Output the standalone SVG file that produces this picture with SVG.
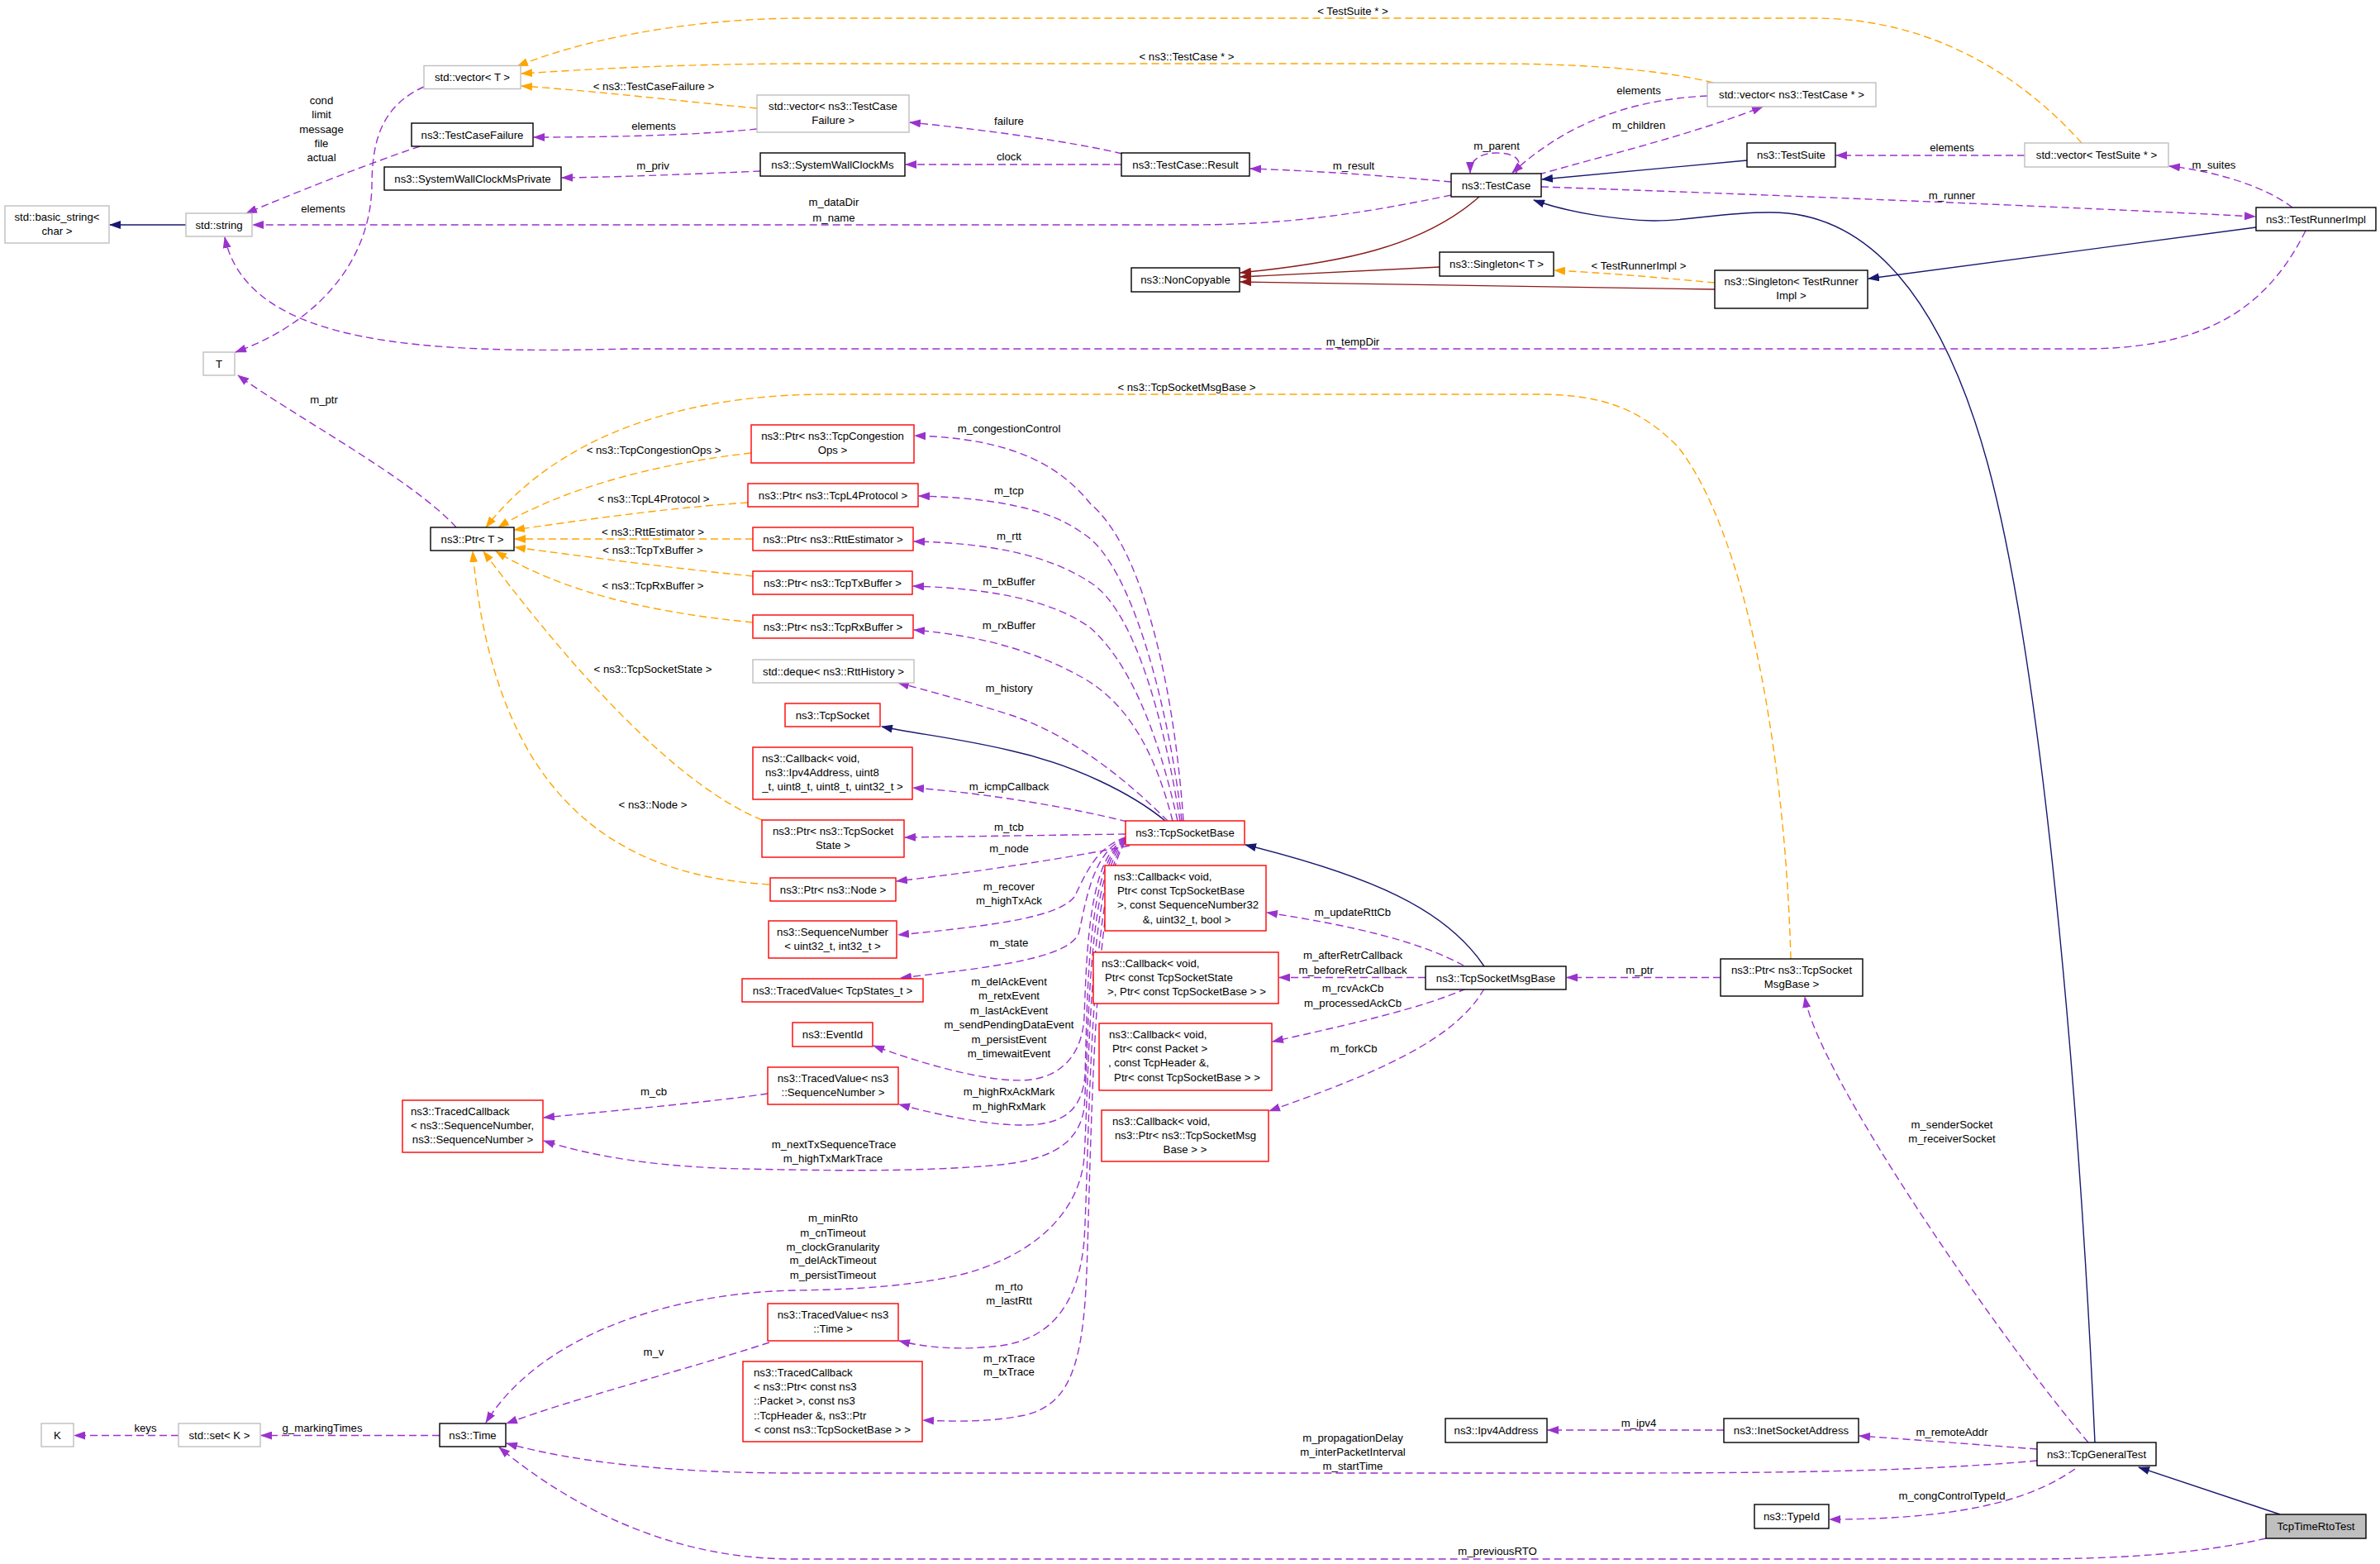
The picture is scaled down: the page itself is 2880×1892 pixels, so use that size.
<svg xmlns="http://www.w3.org/2000/svg" width="2880" height="1892" viewBox="0 0 2880 1892">
<style>
text{font-family:"Liberation Sans",Arial,Helvetica,sans-serif;font-size:13.2px;fill:#000}
.m{text-anchor:middle}
.n rect{fill:#fff;stroke-width:1.4}
.b rect{stroke:#000}
.g rect{stroke:#bfbfbf}
.r rect{stroke:#ff0000}
.e path{fill:none;stroke-width:1.4}
.p{stroke:#9a32cd;stroke-dasharray:9,5;marker-end:url(#ap)}
.o{stroke:#ffa500;stroke-dasharray:9,5;marker-end:url(#ao)}
.u{stroke:#191970;marker-end:url(#au)}
.f{stroke:#8b1a1a;marker-end:url(#af)}
</style>
<defs>
<marker id="ap" markerWidth="14" markerHeight="10" refX="13" refY="5" orient="auto" markerUnits="userSpaceOnUse"><path d="M0,0 L14,5 L0,10 z" fill="#9a32cd"/></marker>
<marker id="ao" markerWidth="14" markerHeight="10" refX="13" refY="5" orient="auto" markerUnits="userSpaceOnUse"><path d="M0,0 L14,5 L0,10 z" fill="#ffa500"/></marker>
<marker id="au" markerWidth="14" markerHeight="10" refX="13" refY="5" orient="auto" markerUnits="userSpaceOnUse"><path d="M0,0 L14,5 L0,10 z" fill="#191970"/></marker>
<marker id="af" markerWidth="14" markerHeight="10" refX="13" refY="5" orient="auto" markerUnits="userSpaceOnUse"><path d="M0,0 L14,5 L0,10 z" fill="#8b1a1a"/></marker>
</defs>
<rect width="2880" height="1892" fill="#fff"/>
<g id="connectors" class="e">
<path class="u" d="M225,272 L133,272"/>
<path class="p" d="M513,105 C462,128 450,170 450,225 C448,320 380,392 285,426"/>
<path class="p" d="M508,177 C440,200 350,236 298,258"/>
<path class="p" d="M916,156 C850,163 750,166 646,166"/>
<path class="o" d="M916,131 C820,122 720,110 631,104"/>
<path class="o" d="M2073,100 C2000,82 1900,77 1800,77 L960,77 C800,78 710,84 631,89"/>
<path class="o" d="M2519,173 C2440,85 2330,22 2196,22 L960,22 C820,24 700,50 626,80"/>
<path class="p" d="M920,207 C850,210 760,214 680,215"/>
<path class="p" d="M1358,186 C1300,172 1200,158 1101,148"/>
<path class="p" d="M1357,199 L1096,199"/>
<path class="p" d="M1756,220 C1680,213 1600,207 1513,204"/>
<path class="p" d="M1834,210 C1846,192 1830,185 1811,185 C1792,185 1779,193 1779,209"/>
<path class="p" d="M2066,116 C1980,120 1900,145 1830,209"/>
<path class="p" d="M1862,211 C1950,186 2050,162 2133,129"/>
<path class="p" d="M1756,236 C1650,258 1560,272 1440,272 L306,272"/>
<path class="u" d="M2114,194 L1866,217"/>
<path class="p" d="M1865,226 C2100,234 2500,250 2729,262"/>
<path class="u" d="M2535,1745 C2515,1300 2470,800 2405,560 C2350,360 2260,255 2140,257 C2080,257 2040,268 2000,267 C1960,266 1900,258 1856,242"/>
<path class="p" d="M2450,188 L2222,188"/>
<path class="p" d="M2774,251 C2740,225 2680,207 2625,201"/>
<path class="u" d="M2730,275 L2261,337"/>
<path class="o" d="M2075,342 C2000,335 1940,330 1881,327"/>
<path class="f" d="M1790,238 C1720,300 1620,318 1501,330"/>
<path class="f" d="M1742,323 L1501,335"/>
<path class="f" d="M2075,350 C1900,349 1700,344 1501,341"/>
<path class="p" d="M2790,279 C2740,380 2660,422 2520,422 L760,422 C520,428 300,420 272,287"/>
<path class="p" d="M552,638 C500,580 350,500 288,454"/>
<path class="o" d="M2167,1160 C2160,900 2110,640 2030,540 C1985,495 1940,477 1860,477 L1000,477 C840,477 680,520 588,638"/>
<path class="o" d="M909,548 C800,560 680,590 603,638"/>
<path class="o" d="M905,608 C800,615 700,630 622,641"/>
<path class="o" d="M911,652 L623,652"/>
<path class="o" d="M911,697 C820,688 720,675 623,662"/>
<path class="o" d="M911,753 C780,740 680,715 600,667"/>
<path class="o" d="M922,992 C820,950 700,820 585,667"/>
<path class="o" d="M931,1070 C760,1060 600,980 572,667"/>
<path class="p" d="M1432,993 C1420,820 1380,660 1320,610 C1280,560 1220,530 1107,527"/>
<path class="p" d="M1430,993 C1415,860 1370,680 1310,645 C1270,615 1200,602 1112,600"/>
<path class="p" d="M1428,993 C1410,880 1375,740 1320,705 C1270,672 1200,657 1106,655"/>
<path class="p" d="M1425,993 C1400,880 1365,800 1320,760 C1280,730 1210,712 1105,709"/>
<path class="p" d="M1419,993 C1400,920 1370,850 1303,816 C1260,793 1200,770 1106,762"/>
<path class="p" d="M1413,993 C1370,950 1300,890 1223,865 C1170,848 1120,835 1087,826"/>
<path class="u" d="M1410,993 C1370,960 1300,925 1223,908 C1160,893 1110,888 1067,879"/>
<path class="p" d="M1364,994 C1300,978 1200,960 1105,953"/>
<path class="p" d="M1362,1009 L1095,1013"/>
<path class="p" d="M1367,1023 C1280,1040 1180,1055 1085,1066"/>
<path class="p" d="M1362,1013 C1325,1025 1313,1060 1300,1085 C1280,1110 1200,1120 1087,1131"/>
<path class="p" d="M1362,1014 C1320,1030 1313,1100 1305,1130 C1290,1160 1200,1170 1090,1183"/>
<path class="p" d="M1362,1015 C1318,1035 1315,1150 1312,1230 C1310,1270 1290,1300 1248,1306 C1200,1312 1110,1285 1057,1265"/>
<path class="p" d="M1362,1016 C1316,1040 1316,1200 1313,1300 C1310,1340 1290,1360 1242,1361 C1200,1362 1140,1350 1088,1336"/>
<path class="p" d="M1362,1016 C1316,1045 1318,1250 1312,1340 C1305,1390 1260,1405 1200,1410 C1100,1418 1000,1416 900,1414 C800,1412 720,1400 658,1380"/>
<path class="p" d="M1362,1017 C1318,1050 1318,1300 1312,1400 C1305,1480 1230,1530 1144,1546 C1080,1558 1020,1560 960,1561 C800,1565 650,1620 588,1721"/>
<path class="p" d="M1362,1018 C1318,1060 1318,1400 1312,1500 C1305,1580 1270,1620 1210,1628 C1160,1634 1120,1630 1088,1622"/>
<path class="p" d="M1362,1019 C1320,1070 1320,1450 1314,1560 C1308,1660 1290,1700 1240,1712 C1200,1720 1160,1720 1117,1718"/>
<path class="u" d="M1796,1169 C1750,1100 1660,1060 1507,1022"/>
<path class="p" d="M1771,1168 C1720,1140 1640,1120 1533,1104"/>
<path class="p" d="M1725,1182.5 L1548,1182.5"/>
<path class="p" d="M1774,1196 C1720,1220 1630,1240 1540,1260"/>
<path class="p" d="M1796,1196 C1760,1260 1660,1300 1536,1344"/>
<path class="p" d="M2082,1182.5 L1896,1182.5"/>
<path class="p" d="M2527,1745 C2420,1620 2200,1300 2184,1206"/>
<path class="p" d="M2086,1730 L1873,1730"/>
<path class="p" d="M2465,1753 C2400,1748 2320,1742 2250,1737"/>
<path class="p" d="M2465,1767 C2300,1782 2100,1782 1900,1782 L960,1782 C820,1782 700,1770 613,1746"/>
<path class="p" d="M2511,1777 C2470,1805 2400,1838 2214,1838"/>
<path class="u" d="M2759,1832 L2588,1775"/>
<path class="p" d="M2742,1861 C2660,1880 2560,1886 2450,1886 L960,1886 C820,1886 700,1830 604,1751"/>
<path class="p" d="M216,1736.5 L90,1736.5"/>
<path class="p" d="M532,1736.5 L316,1736.5"/>
<path class="p" d="M929,1323 C860,1333 760,1342 658,1352"/>
<path class="p" d="M931,1624 C820,1660 700,1690 613,1722"/>
<g class="lbl">
<text class="m" x="391" y="256.5">elements</text>
<text class="m" x="389" y="125.5">cond</text>
<text class="m" x="389" y="143">limit</text>
<text class="m" x="389" y="160.5">message</text>
<text class="m" x="389" y="177.5">file</text>
<text class="m" x="389" y="195">actual</text>
<text class="m" x="791" y="108.5">&lt; ns3::TestCaseFailure &gt;</text>
<text class="m" x="791" y="156.5">elements</text>
<text class="m" x="790" y="204.5">m_priv</text>
<text class="m" x="392" y="487.5">m_ptr</text>
<text class="m" x="791" y="548.5">&lt; ns3::TcpCongestionOps &gt;</text>
<text class="m" x="791" y="607.5">&lt; ns3::TcpL4Protocol &gt;</text>
<text class="m" x="790" y="647.5">&lt; ns3::RttEstimator &gt;</text>
<text class="m" x="790" y="669.5">&lt; ns3::TcpTxBuffer &gt;</text>
<text class="m" x="790" y="712.5">&lt; ns3::TcpRxBuffer &gt;</text>
<text class="m" x="790" y="813.5">&lt; ns3::TcpSocketState &gt;</text>
<text class="m" x="790" y="977.5">&lt; ns3::Node &gt;</text>
<text class="m" x="1637" y="17.5">&lt; TestSuite * &gt;</text>
<text class="m" x="1436" y="72.5">&lt; ns3::TestCase * &gt;</text>
<text class="m" x="1221" y="150.5">failure</text>
<text class="m" x="1221" y="193.5">clock</text>
<text class="m" x="1638" y="204.5">m_result</text>
<text class="m" x="1811" y="180.5">m_parent</text>
<text class="m" x="1009" y="248.5">m_dataDir</text>
<text class="m" x="1009" y="267.5">m_name</text>
<text class="m" x="1637" y="417.5">m_tempDir</text>
<text class="m" x="1436" y="472.5">&lt; ns3::TcpSocketMsgBase &gt;</text>
<text class="m" x="1221" y="522.5">m_congestionControl</text>
<text class="m" x="1221" y="597.5">m_tcp</text>
<text class="m" x="1983" y="113.5">elements</text>
<text class="m" x="1983" y="155.5">m_children</text>
<text class="m" x="2362" y="182.5">elements</text>
<text class="m" x="2679" y="203.5">m_suites</text>
<text class="m" x="2362" y="240.5">m_runner</text>
<text class="m" x="1983" y="325.5">&lt; TestRunnerImpl &gt;</text>
<text class="m" x="1221" y="652.5">m_rtt</text>
<text class="m" x="1221" y="707.5">m_txBuffer</text>
<text class="m" x="1221" y="760.5">m_rxBuffer</text>
<text class="m" x="1221" y="836.5">m_history</text>
<text class="m" x="1221" y="955.5">m_icmpCallback</text>
<text class="m" x="1221" y="1004.5">m_tcb</text>
<text class="m" x="1221" y="1030.5">m_node</text>
<text class="m" x="1221" y="1076.5">m_recover</text>
<text class="m" x="1221" y="1093.5">m_highTxAck</text>
<text class="m" x="1221" y="1144.5">m_state</text>
<text class="m" x="1221" y="1191.5">m_delAckEvent</text>
<text class="m" x="1221" y="1208.5">m_retxEvent</text>
<text class="m" x="1221" y="1226.5">m_lastAckEvent</text>
<text class="m" x="1221" y="1244">m_sendPendingDataEvent</text>
<text class="m" x="1221" y="1261.5">m_persistEvent</text>
<text class="m" x="1221" y="1279">m_timewaitEvent</text>
<text class="m" x="1637" y="1107.5">m_updateRttCb</text>
<text class="m" x="1637" y="1159.5">m_afterRetrCallback</text>
<text class="m" x="1637" y="1177.5">m_beforeRetrCallback</text>
<text class="m" x="1637" y="1199.5">m_rcvAckCb</text>
<text class="m" x="1637" y="1217.5">m_processedAckCb</text>
<text class="m" x="1638" y="1272.5">m_forkCb</text>
<text class="m" x="1984" y="1177.5">m_ptr</text>
<text class="m" x="791" y="1324.5">m_cb</text>
<text class="m" x="176" y="1731.5">keys</text>
<text class="m" x="390" y="1731.5">g_markingTimes</text>
<text class="m" x="791" y="1639.5">m_v</text>
<text class="m" x="1221" y="1324.5">m_highRxAckMark</text>
<text class="m" x="1221" y="1342.5">m_highRxMark</text>
<text class="m" x="1009" y="1388.5">m_nextTxSequenceTrace</text>
<text class="m" x="1008" y="1405.5">m_highTxMarkTrace</text>
<text class="m" x="1008" y="1477.5">m_minRto</text>
<text class="m" x="1008" y="1495.5">m_cnTimeout</text>
<text class="m" x="1008" y="1512.5">m_clockGranularity</text>
<text class="m" x="1008" y="1528.5">m_delAckTimeout</text>
<text class="m" x="1008" y="1546.5">m_persistTimeout</text>
<text class="m" x="1221" y="1560.5">m_rto</text>
<text class="m" x="1221" y="1577.5">m_lastRtt</text>
<text class="m" x="1221" y="1647.5">m_rxTrace</text>
<text class="m" x="1221" y="1664">m_txTrace</text>
<text class="m" x="1637" y="1743.5">m_propagationDelay</text>
<text class="m" x="1637" y="1760.5">m_interPacketInterval</text>
<text class="m" x="1637" y="1777.5">m_startTime</text>
<text class="m" x="1812" y="1881">m_previousRTO</text>
<text class="m" x="2362" y="1364.5">m_senderSocket</text>
<text class="m" x="2362" y="1381.5">m_receiverSocket</text>
<text class="m" x="1983" y="1725.5">m_ipv4</text>
<text class="m" x="2362" y="1736.5">m_remoteAddr</text>
<text class="m" x="2362" y="1813.5">m_congControlTypeId</text>
</g>
</g>
<g id="n_basic_string" class="n g"><rect x="6" y="249" width="126" height="45"/><text class="m" x="69" y="266.8">std::basic_string&lt;</text><text class="m" x="69" y="284.1">char &gt;</text></g>
<g id="n_std_string" class="n g"><rect x="225" y="258" width="80" height="28"/><text class="m" x="265" y="276.5">std::string</text></g>
<g id="n_vector_T" class="n g"><rect x="513" y="79.5" width="117" height="28"/><text class="m" x="571.5" y="98">std::vector&lt; T &gt;</text></g>
<g id="n_TestCaseFailure" class="n b"><rect x="498" y="149" width="147" height="28"/><text class="m" x="571.5" y="167.5">ns3::TestCaseFailure</text></g>
<g id="n_SWCMPrivate" class="n b"><rect x="465" y="202" width="214" height="28"/><text class="m" x="572" y="220.5">ns3::SystemWallClockMsPrivate</text></g>
<g id="n_T" class="n g"><rect x="246" y="426" width="38" height="28"/><text class="m" x="265" y="444.5">T</text></g>
<g id="n_Ptr_T" class="n b"><rect x="521" y="638" width="101" height="28"/><text class="m" x="571.5" y="656.5">ns3::Ptr&lt; T &gt;</text></g>
<g id="n_vector_TCF" class="n g"><rect x="916" y="115" width="184" height="45"/><text class="m" x="1008" y="132.8">std::vector&lt; ns3::TestCase</text><text class="m" x="1008" y="150.1">Failure &gt;</text></g>
<g id="n_SWCM" class="n b"><rect x="920" y="185" width="175" height="28"/><text class="m" x="1007.5" y="203.5">ns3::SystemWallClockMs</text></g>
<g id="n_Result" class="n b"><rect x="1357" y="185" width="155" height="28"/><text class="m" x="1434.5" y="203.5">ns3::TestCase::Result</text></g>
<g id="n_TestCase" class="n b"><rect x="1756" y="210" width="109" height="28"/><text class="m" x="1810.5" y="228.5">ns3::TestCase</text></g>
<g id="n_NonCopyable" class="n b"><rect x="1369" y="324" width="131" height="29"/><text class="m" x="1434.5" y="343">ns3::NonCopyable</text></g>
<g id="n_Singleton_T" class="n b"><rect x="1742" y="305" width="138" height="29"/><text class="m" x="1811" y="324">ns3::Singleton&lt; T &gt;</text></g>
<g id="n_vector_TestCase" class="n g"><rect x="2066" y="100" width="204" height="29"/><text class="m" x="2168" y="119">std::vector&lt; ns3::TestCase * &gt;</text></g>
<g id="n_TestSuite" class="n b"><rect x="2114" y="173" width="107" height="29"/><text class="m" x="2167.5" y="192">ns3::TestSuite</text></g>
<g id="n_vector_TestSuite" class="n g"><rect x="2450" y="173" width="174" height="29"/><text class="m" x="2537" y="192">std::vector&lt; TestSuite * &gt;</text></g>
<g id="n_TestRunnerImpl" class="n b"><rect x="2730" y="251" width="145" height="28"/><text class="m" x="2802.5" y="269.5">ns3::TestRunnerImpl</text></g>
<g id="n_Singleton_TRI" class="n b"><rect x="2075" y="327" width="185" height="46"/><text class="m" x="2167.5" y="344.8">ns3::Singleton&lt; TestRunner</text><text class="m" x="2167.5" y="362.1">Impl &gt;</text></g>
<g id="n_Ptr_CC" class="n r"><rect x="909" y="514" width="197" height="46"/><text class="m" x="1007.5" y="531.8">ns3::Ptr&lt; ns3::TcpCongestion</text><text class="m" x="1007.5" y="549.1">Ops &gt;</text></g>
<g id="n_Ptr_L4" class="n r"><rect x="905" y="585" width="206" height="28"/><text class="m" x="1008" y="603.5">ns3::Ptr&lt; ns3::TcpL4Protocol &gt;</text></g>
<g id="n_Ptr_Rtt" class="n r"><rect x="911" y="638" width="194" height="28"/><text class="m" x="1008" y="656.5">ns3::Ptr&lt; ns3::RttEstimator &gt;</text></g>
<g id="n_Ptr_Tx" class="n r"><rect x="911" y="691" width="193" height="28"/><text class="m" x="1007.5" y="709.5">ns3::Ptr&lt; ns3::TcpTxBuffer &gt;</text></g>
<g id="n_Ptr_Rx" class="n r"><rect x="911" y="744" width="194" height="28"/><text class="m" x="1008" y="762.5">ns3::Ptr&lt; ns3::TcpRxBuffer &gt;</text></g>
<g id="n_deque" class="n g"><rect x="911" y="798" width="195" height="28"/><text class="m" x="1008.5" y="816.5">std::deque&lt; ns3::RttHistory &gt;</text></g>
<g id="n_TcpSocket" class="n r"><rect x="950" y="851" width="115" height="28"/><text class="m" x="1007.5" y="869.5">ns3::TcpSocket</text></g>
<g id="n_Cb_Ipv4" class="n r"><rect x="911" y="904" width="193" height="63"/><text x="922" y="921.8">ns3::Callback&lt; void,</text><text x="926" y="939.1">ns3::Ipv4Address, uint8</text><text class="m" x="1007.5" y="956.4">_t, uint8_t, uint8_t, uint32_t &gt;</text></g>
<g id="n_Ptr_TSS" class="n r"><rect x="922" y="992" width="172" height="45"/><text class="m" x="1008" y="1009.8">ns3::Ptr&lt; ns3::TcpSocket</text><text class="m" x="1008" y="1027.1">State &gt;</text></g>
<g id="n_Ptr_Node" class="n r"><rect x="932" y="1062" width="152" height="28"/><text class="m" x="1008" y="1080.5">ns3::Ptr&lt; ns3::Node &gt;</text></g>
<g id="n_SeqNum" class="n r"><rect x="930" y="1114" width="155" height="45"/><text class="m" x="1007.5" y="1131.8">ns3::SequenceNumber</text><text class="m" x="1007.5" y="1149.1">&lt; uint32_t, int32_t &gt;</text></g>
<g id="n_TV_States" class="n r"><rect x="898" y="1184" width="219" height="28"/><text class="m" x="1007.5" y="1202.5">ns3::TracedValue&lt; TcpStates_t &gt;</text></g>
<g id="n_EventId" class="n r"><rect x="959" y="1237" width="97" height="29"/><text class="m" x="1007.5" y="1256">ns3::EventId</text></g>
<g id="n_TV_Seq" class="n r"><rect x="929" y="1291" width="158" height="45"/><text class="m" x="1008" y="1308.8">ns3::TracedValue&lt; ns3</text><text class="m" x="1008" y="1326.1">::SequenceNumber &gt;</text></g>
<g id="n_TC_Seq" class="n r"><rect x="487" y="1331" width="170" height="63"/><text x="497" y="1348.8">ns3::TracedCallback</text><text x="497" y="1366.1">&lt; ns3::SequenceNumber,</text><text class="m" x="572" y="1383.4">ns3::SequenceNumber &gt;</text></g>
<g id="n_TV_Time" class="n r"><rect x="929" y="1577" width="158" height="45"/><text class="m" x="1008" y="1594.8">ns3::TracedValue&lt; ns3</text><text class="m" x="1008" y="1612.1">::Time &gt;</text></g>
<g id="n_TC_Pkt" class="n r"><rect x="899" y="1647" width="217" height="97"/><text x="912" y="1664.8">ns3::TracedCallback</text><text x="912" y="1682.1">&lt; ns3::Ptr&lt; const ns3</text><text x="912" y="1699.4">::Packet &gt;, const ns3</text><text x="912" y="1716.7">::TcpHeader &amp;, ns3::Ptr</text><text class="m" x="1007.5" y="1734">&lt; const ns3::TcpSocketBase &gt; &gt;</text></g>
<g id="n_TcpSocketBase" class="n r"><rect x="1362" y="993" width="144" height="29"/><text class="m" x="1434" y="1012">ns3::TcpSocketBase</text></g>
<g id="n_Cb_Rtt" class="n r"><rect x="1337" y="1047" width="195" height="79"/><text x="1348" y="1064.8">ns3::Callback&lt; void,</text><text x="1352" y="1082.1">Ptr&lt; const TcpSocketBase</text><text x="1352" y="1099.4">&gt;, const SequenceNumber32</text><text class="m" x="1436" y="1116.7">&amp;, uint32_t, bool &gt;</text></g>
<g id="n_Cb_TSS" class="n r"><rect x="1323" y="1152" width="224" height="62"/><text x="1333" y="1169.8">ns3::Callback&lt; void,</text><text x="1337" y="1187.1">Ptr&lt; const TcpSocketState</text><text class="m" x="1436" y="1204.4">&gt;, Ptr&lt; const TcpSocketBase &gt; &gt;</text></g>
<g id="n_Cb_Pkt" class="n r"><rect x="1330" y="1238" width="209" height="81"/><text x="1342" y="1255.8">ns3::Callback&lt; void,</text><text x="1346" y="1273.1">Ptr&lt; const Packet &gt;</text><text x="1341" y="1290.4">, const TcpHeader &amp;,</text><text class="m" x="1436.5" y="1307.7">Ptr&lt; const TcpSocketBase &gt; &gt;</text></g>
<g id="n_Cb_Msg" class="n r"><rect x="1333" y="1343" width="202" height="62"/><text x="1346" y="1360.8">ns3::Callback&lt; void,</text><text x="1349" y="1378.1">ns3::Ptr&lt; ns3::TcpSocketMsg</text><text class="m" x="1434" y="1395.4">Base &gt; &gt;</text></g>
<g id="n_TcpSocketMsgBase" class="n b"><rect x="1725" y="1169" width="170" height="28"/><text class="m" x="1810" y="1187.5">ns3::TcpSocketMsgBase</text></g>
<g id="n_Ptr_TSMB" class="n b"><rect x="2082" y="1160" width="172" height="45"/><text class="m" x="2168" y="1177.8">ns3::Ptr&lt; ns3::TcpSocket</text><text class="m" x="2168" y="1195.1">MsgBase &gt;</text></g>
<g id="n_K" class="n g"><rect x="50" y="1722" width="39" height="28"/><text class="m" x="69.5" y="1740.5">K</text></g>
<g id="n_set_K" class="n g"><rect x="216" y="1722" width="99" height="28"/><text class="m" x="265.5" y="1740.5">std::set&lt; K &gt;</text></g>
<g id="n_Time" class="n b"><rect x="532" y="1722" width="80" height="28"/><text class="m" x="572" y="1740.5">ns3::Time</text></g>
<g id="n_Ipv4Address" class="n b"><rect x="1749" y="1716" width="123" height="29"/><text class="m" x="1810.5" y="1735">ns3::Ipv4Address</text></g>
<g id="n_InetSocketAddress" class="n b"><rect x="2086" y="1716" width="163" height="29"/><text class="m" x="2167.5" y="1735">ns3::InetSocketAddress</text></g>
<g id="n_TcpGeneralTest" class="n b"><rect x="2465" y="1745" width="144" height="28"/><text class="m" x="2537" y="1763.5">ns3::TcpGeneralTest</text></g>
<g id="n_TypeId" class="n b"><rect x="2123" y="1820" width="90" height="29"/><text class="m" x="2168" y="1839">ns3::TypeId</text></g>
<g id="n_TcpTimeRtoTest" class="n b"><rect x="2742" y="1832" width="121" height="29" style="fill:#bfbfbf"/><text class="m" x="2802.5" y="1851">TcpTimeRtoTest</text></g>
</svg>
